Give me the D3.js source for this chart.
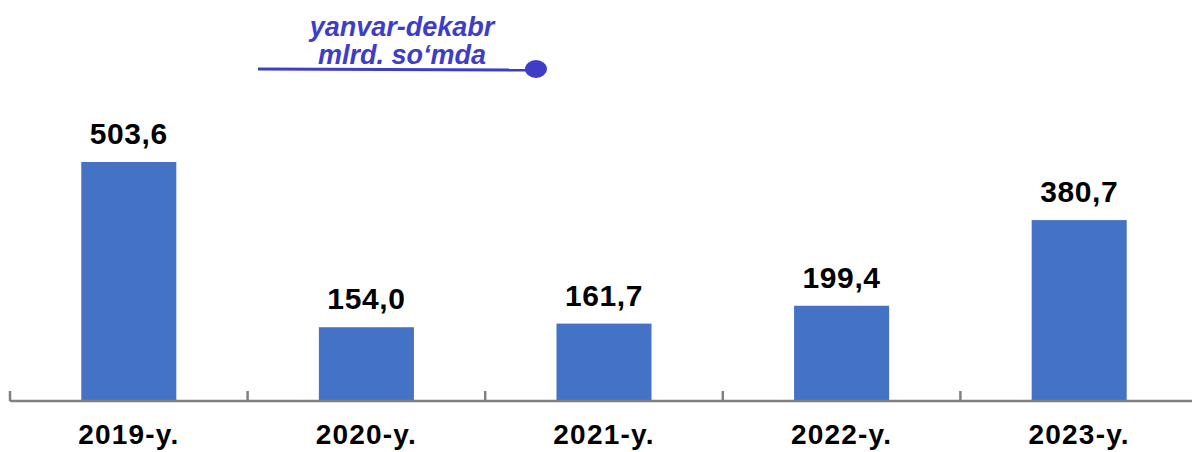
<!DOCTYPE html>
<html>
<head>
<meta charset="utf-8">
<script src="https://cdn.jsdelivr.net/npm/d3@7"></script>
<style>
  body { margin: 0; background: #fff; }
  text { font-family: "Liberation Sans", Arial, sans-serif; }
</style>
</head>
<body>
<svg width="1192" height="452"></svg>
<script>
// Data
const years = ["2019-y.", "2020-y.", "2021-y.", "2022-y.", "2023-y."];
const values = [503.6, 154.0, 161.7, 199.4, 380.7];
const titleLines = ["yanvar-dekabr", "mlrd. so‘mda"];

const svg = d3.select("svg");
const baseY = 400;

const x = d3.scaleBand()
    .domain(years)
    .range([10, 1198])
    .paddingInner(0.6)
    .paddingOuter(0.3);

const y = d3.scaleLinear()
    .domain([0, 503.6])
    .range([baseY, 162]);

const fmt = v => v.toFixed(1).replace(".", ",");

// Bars
svg.selectAll(".bar")
    .data(values)
    .enter().append("rect")
    .attr("class", "bar")
    .attr("x", (d, i) => x(years[i]))
    .attr("y", d => y(d))
    .attr("width", x.bandwidth())
    .attr("height", d => baseY - y(d))
    .attr("fill", "#4472C4");

// Value labels
svg.selectAll(".val")
    .data(values)
    .enter().append("text")
    .attr("class", "val")
    .attr("x", (d, i) => x(years[i]) + x.bandwidth() / 2)
    .attr("y", d => y(d) - 18)
    .attr("text-anchor", "middle")
    .style("font-size", "30px")
    .style("font-weight", "bold")
    .style("letter-spacing", "0.6px")
    .attr("fill", "#000")
    .text(fmt);

// Axis line and ticks at category boundaries
svg.append("line")
    .attr("x1", 10).attr("x2", 1192)
    .attr("y1", baseY + 1).attr("y2", baseY + 1)
    .attr("stroke", "#808080")
    .attr("stroke-width", 2.5);

const r0 = x.range()[0], r1 = x.range()[1];
svg.selectAll(".tick")
    .data(d3.range(years.length))
    .enter().append("line")
    .attr("class", "tick")
    .attr("x1", i => r0 + i * (r1 - r0) / years.length)
    .attr("x2", i => r0 + i * (r1 - r0) / years.length)
    .attr("y1", baseY - 9)
    .attr("y2", baseY + 1)
    .attr("stroke", "#808080")
    .attr("stroke-width", 2.5);

// Category labels
svg.selectAll(".cat")
    .data(years)
    .enter().append("text")
    .attr("class", "cat")
    .attr("x", d => x(d) + x.bandwidth() / 2)
    .attr("y", 444)
    .attr("text-anchor", "middle")
    .style("font-size", "28px")
    .style("font-weight", "bold")
    .style("letter-spacing", "1.2px")
    .attr("fill", "#000")
    .text(d => d);

// Unit note with line and dot
const blue = "#3D3DC8";
svg.selectAll(".title")
    .data(titleLines)
    .enter().append("text")
    .attr("class", "title")
    .attr("x", 402)
    .attr("y", (d, i) => 36 + i * 28)
    .attr("text-anchor", "middle")
    .style("font-size", "27px")
    .style("font-weight", "bold")
    .style("font-style", "italic")
    .attr("fill", blue)
    .text(d => d);

svg.append("line")
    .attr("x1", 258).attr("x2", 530)
    .attr("y1", 69).attr("y2", 70)
    .attr("stroke", blue)
    .attr("stroke-width", 3);

svg.append("ellipse")
    .attr("cx", 536).attr("cy", 69)
    .attr("rx", 11).attr("ry", 9)
    .attr("fill", blue);
</script>
</body>
</html>
